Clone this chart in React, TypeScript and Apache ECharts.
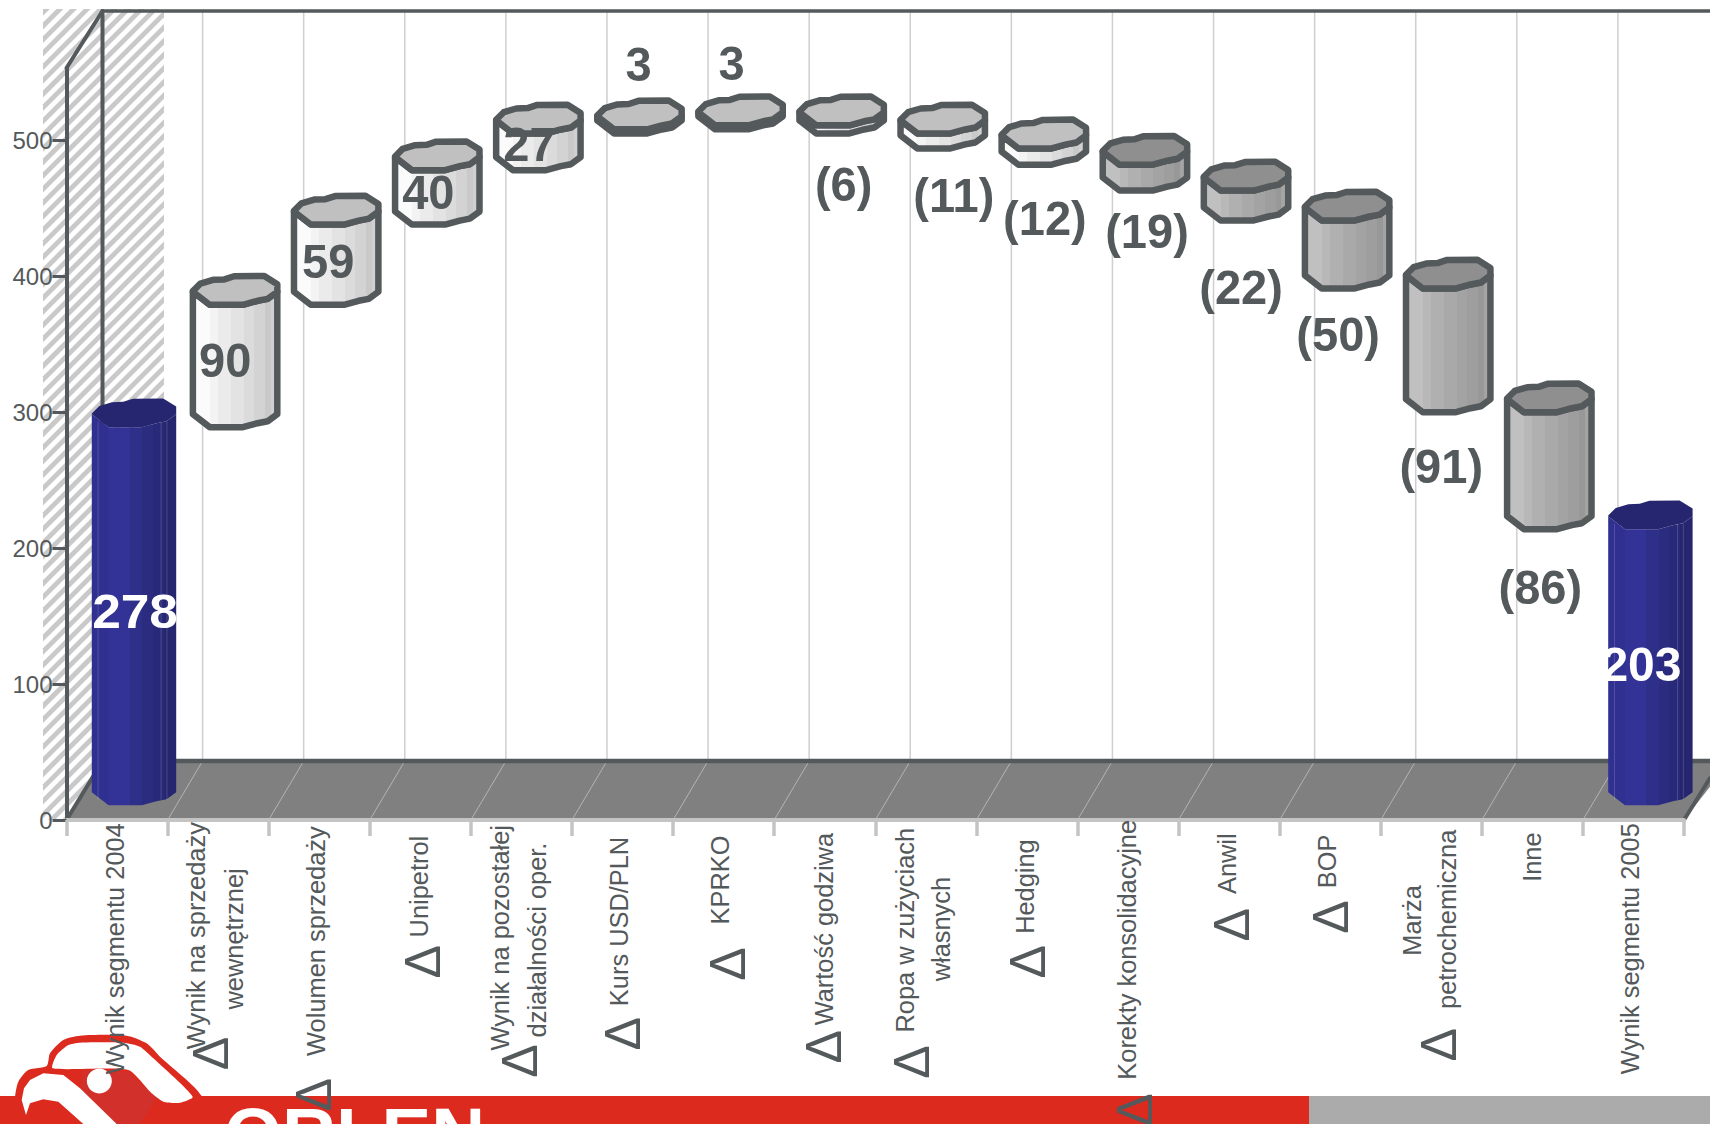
import React, { useEffect, useRef } from "react";
import * as echarts from "echarts";

// ---------- data ----------
const CATEGORIES = [
  "Wynik segmentu 2004", "Wynik na sprzedaży wewnętrznej", "Wolumen sprzedaży", "Unipetrol",
  "Wynik na pozostałej działalności oper.", "Kurs USD/PLN", "KPRKO", "Wartość godziwa",
  "Ropa w zużyciach własnych", "Hedging", "Korekty konsolidacyjne", "Anwil", "BOP",
  "Marża petrochemiczna", "Inne", "Wynik segmentu 2005",
];
const LOWS = [0, 278, 368, 427, 467, 494, 497, 494, 483, 471, 452, 430, 380, 289, 203, 0];
const HIGHS = [278, 368, 427, 467, 494, 497, 500, 500, 494, 483, 471, 452, 430, 380, 289, 203];
const VALUE_LABELS = ["278", "90", "59", "40", "27", "3", "3", "(6)", "(11)", "(12)", "(19)", "(22)", "(50)", "(91)", "(86)", "203"];
const Y_TICKS = [0, 100, 200, 300, 400, 500];
const BAR_KINDS = ["total", "light", "light", "light", "light", "light", "light", "light", "light", "light", "dark", "dark", "dark", "dark", "dark", "total"];

// ---------- layout (not data) ----------
const K = 1.0905;
const W = 1710;
const H = 1124;
const FRONT_L = 66.5;
const FRONT_R = 1684;
const Y0 = 820;
const DX = 36;
const DY = 59;
const BACK_Y = 761;
const TOP_Y = 11;
const RX = 42;
const RY = 13.7;
const INK = "#54595b";

// value label nudges relative to the cylinder's centre
const VALUE_NUDGE = [[0, 9], [-11, 8], [-9, 10], [-10, 9], [-10, 6], [-2, -54], [-10, -50], [1, 69], [10, 68], [0, 75], [1, 67], [-6, 95], [-10, 93], [-8, 130], [-10, 130], [-10, 10]];
const VALUE_SCALE = [1.05, 0.96, 0.96, 0.96, 0.96, 0.96, 0.96, 0.96, 0.96, 0.96, 0.96, 0.96, 0.96, 0.96, 0.96, 0.98];

// category label lines: [text, dx from band centre, centre y] in reference-view units
const CATEGORY_LINES: [string, number, number][][] = [
  [["Wynik segmentu 2004", -2, 870]],
  [["Wynik na sprzedaży", -20, 858], ["wewnętrznej", 15, 861]],
  [["Wolumen sprzedaży", -3, 863]],
  [["Unipetrol", -1.6, 813]],
  [["Wynik na pozostałej", -20, 860], ["działalności oper.", 14, 862]],
  [["Kurs USD/PLN", -3, 845]],
  [["KPRKO", -3.6, 807]],
  [["Wartość godziwa", -1, 852]],
  [["Ropa w zużyciach", -19, 853], ["własnych", 14, 852]],
  [["Hedging", -2, 813]],
  [["Korekty konsolidacyjne", -1, 871]],
  [["Anwil", -2, 792]],
  [["BOP", -3, 790]],
  [["Marża", -17.6, 844], ["petrochemiczna", 14.4, 843]],
  [["Inne", 0, 786]],
  [["Wynik segmentu 2005", -3, 870]],
];
// delta marks: [dx from band centre, centre y] in reference-view units; null when absent
const DELTA_MARKS: ([number, number] | null)[] = [
  null, [-7, 966], [-5, 1004], [2.4, 882], [-1, 973], [0, 948], [4.4, 884], [-1, 960],
  [-13, 974], [1, 882], [6, 1018], [3, 848], [1, 841], [7.4, 958], null, null,
];

// wobbly outline of the low-poly cylinder cap, in units of rx / ry
const CAP = [[-1.03, 0], [-0.85, -0.55], [-0.55, -0.82], [-0.28, -0.85], [-0.05, -1.08], [0.67, -1.1], [0.98, -0.5], [0.98, 0.05], [0.75, 0.57], [0.51, 0.71], [0.16, 1], [-0.63, 1], [-1.03, 0.05]];
const FRONT_EDGE = [[-1.03, 0.05], [-0.63, 1], [0.16, 1], [0.51, 0.71], [0.75, 0.57], [0.98, 0.05]];

const stepped = (bands: [number, string][]) => {
  const stops: { offset: number; color: string }[] = [];
  bands.forEach(([end, color], i) => {
    stops.push({ offset: i === 0 ? 0 : bands[i - 1][0], color });
    stops.push({ offset: end, color });
  });
  return new echarts.graphic.LinearGradient(0, 0, 1, 0, stops);
};

const STYLES: Record<string, { body: any; cap: string; stroke: string | null }> = {
  light: {
    body: stepped([[0.2, "#fbfbfb"], [0.3, "#f3f3f3"], [0.45, "#ebebeb"], [0.6, "#e3e3e3"], [0.72, "#dbdbdb"], [0.85, "#d3d3d3"], [0.92, "#c9c9c9"], [1, "#d0d0d0"]]),
    cap: "#c0c0c0",
    stroke: INK,
  },
  dark: {
    body: stepped([[0.2, "#c0c0c0"], [0.3, "#b8b8b8"], [0.45, "#b0b0b0"], [0.6, "#a9a9a9"], [0.72, "#a3a3a3"], [0.85, "#9e9e9e"], [0.92, "#989898"], [1, "#a4a4a4"]]),
    cap: "#8f8f8f",
    stroke: INK,
  },
  total: {
    body: stepped([[0.2, "#2f3090"], [0.45, "#333397"], [0.6, "#2e2f89"], [0.72, "#2b2b7f"], [0.85, "#29297a"], [1, "#262670"]]),
    cap: "#262670",
    stroke: null,
  },
};

// ---------- hatch ----------
const clipToRect = (poly: number[][], x0: number, y0: number, x1: number, y1: number) => {
  const edges: [(p: number[]) => boolean, (a: number[], b: number[]) => number[]][] = [
    [(p) => p[0] >= x0, (a, b) => [x0, a[1] + ((b[1] - a[1]) * (x0 - a[0])) / (b[0] - a[0])]],
    [(p) => p[0] <= x1, (a, b) => [x1, a[1] + ((b[1] - a[1]) * (x1 - a[0])) / (b[0] - a[0])]],
    [(p) => p[1] >= y0, (a, b) => [a[0] + ((b[0] - a[0]) * (y0 - a[1])) / (b[1] - a[1]), y0]],
    [(p) => p[1] <= y1, (a, b) => [a[0] + ((b[0] - a[0]) * (y1 - a[1])) / (b[1] - a[1]), y1]],
  ];
  let out = poly;
  for (const [inside, cross] of edges) {
    const input = out;
    out = [];
    input.forEach((p, i) => {
      const q = input[(i + input.length - 1) % input.length];
      if (inside(p)) {
        if (!inside(q)) out.push(cross(q, p));
        out.push(p);
      } else if (inside(q)) out.push(cross(q, p));
    });
    if (!out.length) break;
  }
  return out;
};

const hatchElements = () => {
  const x0 = 43, x1 = 164, y0 = 9, y1 = 820, period = 13.6, width = 6.8;
  const els: any[] = [];
  for (let c = x0 + y0; c < x1 + y1; c += period) {
    // the parallelogram between x+y=c and x+y=c+width
    const pts = clipToRect(
      [[c + 1000, -1000], [c + width + 1000, -1000], [c + width - 2000, 2000], [c - 2000, 2000]],
      x0, y0, x1, y1
    );
    if (pts.length > 2) els.push({ type: "polygon", shape: { points: pts }, style: { fill: "#c9c9c9" } });
  }
  return els;
};

const wallElements = () => {
  const els: any[] = [];
  const step = (FRONT_R - FRONT_L) / CATEGORIES.length;
  els.push({ type: "polygon", shape: { points: [[FRONT_L, Y0], [FRONT_L + DX, BACK_Y], [W + 20, BACK_Y], [FRONT_R, Y0]] }, style: { fill: "#808080" } });
  for (let i = 1; i <= CATEGORIES.length; i++) {
    const x = FRONT_L + step * i;
    if (i < CATEGORIES.length) els.push({ type: "line", shape: { x1: x + DX - 1, y1: TOP_Y, x2: x + DX - 1, y2: BACK_Y }, style: { stroke: "#cfcfcf", lineWidth: 1.5 } });
    els.push({ type: "line", shape: { x1: x, y1: Y0, x2: x + DX - 1, y2: BACK_Y }, style: { stroke: "#b4b4b4", lineWidth: 1 } });
  }
  const dark = (x1: number, y1: number, x2: number, y2: number, lineWidth: number) => ({ type: "line", shape: { x1, y1, x2, y2 }, style: { stroke: INK, lineWidth, lineCap: "round" } });
  els.push(dark(FRONT_L + DX, TOP_Y, W, TOP_Y, 3.5));
  els.push(dark(FRONT_L + DX, TOP_Y, FRONT_L + DX, BACK_Y, 4));
  els.push(dark(FRONT_L, 68, FRONT_L + DX, TOP_Y, 4));
  els.push(dark(FRONT_L + DX, BACK_Y, W, BACK_Y, 4.5));
  els.push(dark(FRONT_L, Y0, FRONT_L + DX, BACK_Y, 4));
  els.push(dark(FRONT_R, Y0, W, Y0 - 42, 4));
  return els;
};

const logoElements = () => {
  const zoomed = (pts: number[][]) => pts.map(([x, y]) => [x / 3, 1020 + y / 3]);
  return [
    { type: "rect", shape: { x: 0, y: 1096, width: 1309, height: 28 }, style: { fill: "#dd2a1f" } },
    { type: "rect", shape: { x: 1309, y: 1096, width: W - 1309, height: 28 }, style: { fill: "#ababab" } },
    { type: "polygon", shape: { smooth: 0.25, points: zoomed([[45, 232], [55, 185], [85, 150], [140, 138], [150, 100], [190, 60], [240, 47], [380, 47], [440, 70], [480, 110], [605, 228], [605, 312], [45, 312]]) }, style: { fill: "#dd2a1f" } },
    { type: "polygon", shape: { points: zoomed([[250, 148], [385, 155], [470, 235], [420, 312], [340, 312], [240, 205]]) }, style: { fill: "#d2302a" } },
    { type: "polygon", shape: { smooth: 0.2, points: zoomed([[158, 145], [170, 105], [205, 75], [240, 68], [370, 68], [420, 80], [460, 115], [578, 230], [540, 248], [490, 245], [455, 220], [385, 150]]) }, style: { fill: "#ffffff" } },
    { type: "circle", shape: { cx: 298 / 3, cy: 1020 + 183 / 3, r: 12.5 }, style: { fill: "#ffffff" } },
    { type: "polygon", shape: { points: zoomed([[65, 240], [72, 205], [90, 180], [130, 160], [190, 165], [240, 205], [350, 312], [250, 312], [175, 245], [130, 238], [90, 250], [78, 285]]) }, style: { fill: "#ffffff" } },
    { type: "text", x: 224, y: 1134, style: { text: "ORLEN", fill: "#ffffff", font: "bold 74.6px 'Liberation Sans', Arial, sans-serif", align: "left", verticalAlign: "middle" } },
  ];
};

export default function App() {
  const ref = useRef<HTMLDivElement>(null);
  useEffect(() => {
    document.body.style.margin = "0";
    document.documentElement.style.overflow = "hidden";
    const chart = echarts.init(ref.current!, null, { renderer: "svg" });
    const cylinderData = CATEGORIES.map((_, i) => [i, LOWS[i], HIGHS[i]]);
    chart.setOption({
      animation: false,
      backgroundColor: "#ffffff",
      grid: { left: FRONT_L, right: W - FRONT_R, top: 68, bottom: H - Y0 },
      xAxis: {
        type: "category",
        data: CATEGORIES,
        z: 3,
        axisLine: { lineStyle: { color: "#c4c4c4", width: 4 } },
        axisTick: { show: true, interval: 0, length: 16, lineStyle: { color: "#c4c4c4", width: 3.5 } },
        axisLabel: { show: false, interval: 0 },
        splitLine: { show: false },
      },
      yAxis: {
        type: "value",
        min: 0,
        max: 553,
        interval: 100,
        z: 3,
        axisLine: { show: true, onZero: false, lineStyle: { color: INK, width: 4 } },
        axisTick: { show: true, length: 14, customValues: Y_TICKS, lineStyle: { color: INK, width: 3 } },
        axisLabel: { color: INK, fontSize: 24, margin: 14, fontFamily: "'Liberation Sans', Arial, sans-serif", customValues: Y_TICKS },
        splitLine: { show: false },
      },
      graphic: { elements: [...hatchElements(), ...wallElements(), ...logoElements()] },
      series: [
        {
          type: "custom",
          name: "cylinders",
          coordinateSystem: "cartesian2d",
          z: 4,
          clip: false,
          encode: { x: 0, y: [1, 2] },
          data: cylinderData,
          renderItem: (_p: any, api: any) => {
            const i = api.value(0);
            const top = api.coord([i, api.value(2)]);
            const bottom = api.coord([i, api.value(1)]);
            const cx = top[0] + DX / 2;
            const yt = top[1] - DY / 2 + 1;
            const yb = bottom[1] - DY / 2 + 1;
            const s = STYLES[BAR_KINDS[i]];
            const at = (p: number[], y: number) => [cx + p[0] * RX, y + p[1] * RY];
            const bodyPts = [...FRONT_EDGE.map((p) => at(p, yb)), ...[...FRONT_EDGE].reverse().map((p) => at(p, yt))];
            const stroke = s.stroke ? { stroke: s.stroke, lineWidth: 6.5, lineJoin: "round" } : {};
            const children: any[] = [
              { type: "polygon", shape: { points: bodyPts }, style: { fill: s.body, ...stroke } },
              { type: "polygon", shape: { points: CAP.map((p) => at(p, yt)) }, style: { fill: s.cap, ...stroke } },
            ];
            if (!s.stroke) {
              [-0.88, 0.62, 0.76].forEach((f) => {
                children.push({ type: "line", shape: { x1: cx + f * RX, y1: yt + RY * 0.6, x2: cx + f * RX, y2: yb + RY * 0.6 }, style: { stroke: "rgba(255,255,255,0.16)", lineWidth: 1 } });
              });
            }
            return { type: "group", children };
          },
        },
        {
          type: "custom",
          name: "values",
          coordinateSystem: "cartesian2d",
          z: 5,
          clip: false,
          encode: { x: 0, y: [1, 2] },
          data: cylinderData,
          renderItem: (_p: any, api: any) => {
            const i = api.value(0);
            const mid = api.coord([i, (api.value(1) + api.value(2)) / 2]);
            const [nx, ny] = VALUE_NUDGE[i];
            return {
              type: "text",
              x: mid[0] + DX / 2 + nx,
              y: mid[1] - DY / 2 + 1 + ny,
              scaleX: VALUE_SCALE[i],
              style: {
                text: VALUE_LABELS[i],
                fill: BAR_KINDS[i] === "total" ? "#ffffff" : INK,
                font: "bold 49px 'Liberation Sans', Arial, sans-serif",
                align: "center",
                verticalAlign: "middle",
              },
            };
          },
        },
        {
          type: "custom",
          name: "categoryLabels",
          coordinateSystem: "cartesian2d",
          z: 6,
          clip: false,
          encode: { x: 0, y: 1 },
          data: CATEGORIES.map((_, i) => [i, 0]),
          renderItem: (_p: any, api: any) => {
            const i = api.value(0);
            const band = api.coord([i, 0])[0];
            const children: any[] = CATEGORY_LINES[i].map(([text, dx, cy]) => ({
              type: "text",
              x: band + dx * K,
              y: cy * K,
              rotation: Math.PI / 2,
              style: { text, fill: INK, font: "25.4px 'Liberation Sans', Arial, sans-serif", align: "center", verticalAlign: "middle" },
            }));
            const mark = DELTA_MARKS[i];
            if (mark) {
              children.push({
                type: "text",
                x: band + mark[0] * K,
                y: mark[1] * K,
                rotation: Math.PI / 2,
                style: { text: "Δ", fill: INK, font: "50px 'Liberation Sans', Arial, sans-serif", align: "center", verticalAlign: "middle" },
              });
            }
            return { type: "group", children };
          },
        },
      ],
    });
    return () => chart.dispose();
  }, []);
  return <div ref={ref} style={{ width: W, height: H, overflow: "hidden" }} />;
}
